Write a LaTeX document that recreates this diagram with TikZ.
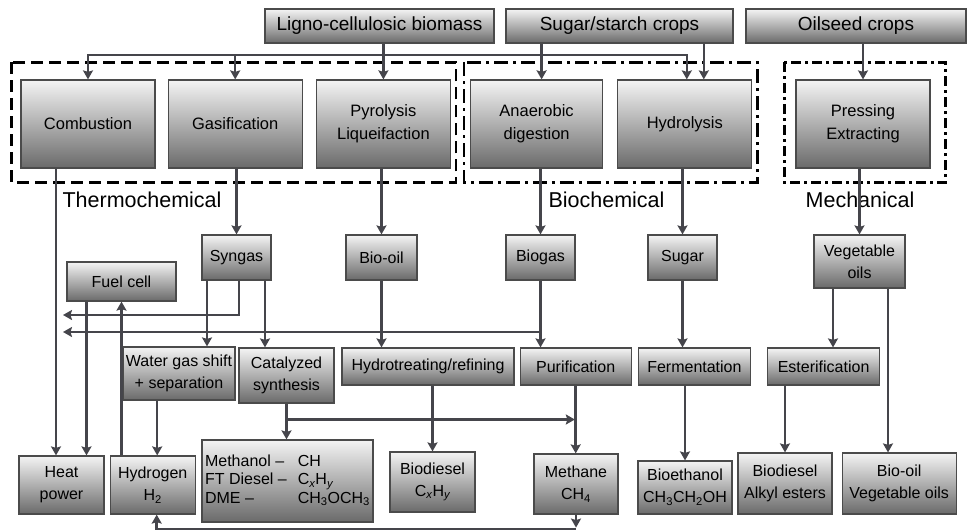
\documentclass[tikz,border=0pt]{standalone}
\usepackage{fontspec}
\setmainfont{Liberation Sans}
\usepackage{tikz}
\usetikzlibrary{shapes,arrows,arrows.meta,positioning,calc}
\usepackage{xcolor}
\definecolor{wire}{HTML}{45454B}
\definecolor{boxedge}{HTML}{4B4B4B}
\definecolor{boxtop}{HTML}{F4F4F4}
\definecolor{boxbottom}{HTML}{6A6A6A}
\tikzstyle{boxbase} = [rectangle, draw=boxedge, line width=1.2pt, top color=boxtop, bottom color=boxbottom, text centered, align=center, inner sep=0pt, font=\fontsize{16}{22}\selectfont]
\tikzstyle{source} = [boxbase, minimum height=34pt, font=\fontsize{19}{22}\selectfont]
\tikzstyle{process} = [boxbase, minimum width=134pt, minimum height=88pt, font=\fontsize{16.5}{23}\selectfont]
\tikzstyle{carrier} = [boxbase, minimum width=69pt, minimum height=45pt]
\tikzstyle{refine} = [boxbase, minimum width=112pt, minimum height=37pt]
\tikzstyle{product} = [boxbase, minimum width=85pt, minimum height=58pt]
\tikzstyle{wireline} = [draw=wire, line width=2.5pt]
\tikzstyle{arrow} = [wireline, ->, >={Stealth[length=9pt,width=10pt,inset=1.5pt]}]
\tikzstyle{frame} = [draw=black, line width=2.6pt]
\tikzstyle{grouplabel} = [font=\fontsize{21.5}{24}\selectfont]

\begin{document}
\begin{tikzpicture}[x=1pt, y=1pt]
    \useasboundingbox (0,0) rectangle (968,-532);
    % Feedstocks
    \node (ligno) [source, minimum width=229pt] at (379.5,-26) {Ligno-cellulosic biomass};
    \node (starch) [source, minimum width=227pt] at (619.5,-26) {Sugar/starch crops};
    \node (oilseed) [source, minimum width=220pt] at (856,-26) {Oilseed crops};

    % Conversion processes
    \node (comb) [process] at (88,-124) {Combustion};
    \node (gasif) [process, right=12pt of comb] {Gasification};
    \node (pyro) [process, right=13pt of gasif] {Pyrolysis\\Liqueifaction};
    \node (anaer) [process, minimum width=132pt, right=19pt of pyro] {Anaerobic\\digestion};
    \node (hydro) [process, right=14pt of anaer] {Hydrolysis};
    \node (press) [process, right=43pt of hydro] {Pressing\\Extracting};

    % Intermediates
    \node (fuel) [boxbase, minimum width=109pt, minimum height=39pt] at (121.5,-281.5) {Fuel cell};
    \node (syngas) [carrier] at (236.5,-257.5) {Syngas};
    \node (biooil) [carrier, minimum width=71pt] at (381.5,-257.5) {Bio-oil};
    \node (biogas) [carrier] at (540.5,-257.5) {Biogas};
    \node (sugar) [carrier] at (682.5,-257.5) {Sugar};
    \node (vegoil) [carrier, minimum width=91pt, minimum height=53pt] at (859.5,-261.5) {Vegetable\\oils};

    % Upgrading
    \node (watergas) [refine, minimum height=53pt] at (179,-373.5) {Water gas shift\\+ separation};
    \node (catal) [refine, minimum width=95pt, minimum height=55pt] at (286.5,-375.5) {Catalyzed\\synthesis};
    \node (hydrot) [refine, minimum width=172pt] at (428,-366.5) {Hydrotreating/refining};
    \node (purif) [refine, minimum width=111pt, right=5pt of hydrot] {Purification};
    \node (ferment) [refine, right=6pt of purif] {Fermentation};
    \node (ester) [refine, right=16pt of ferment] {Esterification};

    % End products
    \node (heat) [product] at (61.5,-485) {Heat\\power};
    \node (hydrogen) [product, right=5pt of heat] {Hydrogen\\H\textsubscript{2}};
    \node (products) [boxbase, minimum width=171pt, minimum height=82pt] at (287.5,-481) {\fontsize{16}{18.5}\selectfont\begin{tabular}{@{}l@{\hspace{11pt}}l@{}}Methanol -- & CH\\FT Diesel -- & C\textsubscript{\itshape x}H\textsubscript{\itshape y}\\DME -- & CH\textsubscript{3}OCH\textsubscript{3}\end{tabular}};
    \node (biodiesel) [product, minimum height=60pt] at (432.5,-482) {Biodiesel\\C\textsubscript{\itshape x}H\textsubscript{\itshape y}};
    \node (methane) [product, minimum width=84pt, minimum height=60pt] at (576,-484) {Methane\\CH\textsubscript{4}};
    \node (bioeth) [product, minimum width=94pt, minimum height=53pt] at (685,-487.5) {Bioethanol\\CH\textsubscript{3}CH\textsubscript{2}OH};
    \node (biodalk) [product, minimum width=94pt, minimum height=61pt] at (785,-483.5) {Biodiesel\\Alkyl esters};
    \node (biooilveg) [product, minimum width=114pt, minimum height=61pt, right=9pt of biodalk] {Bio-oil\\Vegetable oils};

    % Groups
    \draw [frame, dash pattern=on 12pt off 6pt] ($(comb.north west)+(-9,17)$) rectangle ($(pyro.south east)+(5,-14)$);
    \draw [frame, dash pattern=on 14pt off 5pt on 3pt off 5pt] ($(anaer.north west)+(-6,17)$) rectangle ($(hydro.south east)+(5,-14)$);
    \draw [frame, dash pattern=on 10pt off 4pt on 3pt off 4pt] ($(press.north west)+(-11,17)$) rectangle ($(press.south east)+(15,-14)$);
    \node (thermolabel) [grouplabel] at (142,-200) {Thermochemical};
    \node (biolabel) [grouplabel] at (606.5,-200) {Biochemical};
    \node (mechlabel) [grouplabel] at (860,-200) {Mechanical};

    % Arrows from feedstocks
    \coordinate (bus) at (0,-55);
    \draw [wireline] (ligno.south -| pyro) -- (pyro |- bus);
    \draw [arrow] (pyro |- bus) -| (comb.north);
    \draw [arrow] (pyro |- bus) -| ([xshift=2pt]hydro.north);
    \draw [arrow] (gasif |- bus) -- (gasif.north);
    \draw [arrow] (pyro |- bus) -- (pyro.north);
    \draw [arrow] ([xshift=5pt]anaer.north |- starch.south) -- ([xshift=5pt]anaer.north);
    \draw [arrow] ([xshift=19pt]hydro.north |- starch.south) -- ([xshift=19pt]hydro.north);
    \draw [arrow] (oilseed.south -| press) -- (press.north);

    % Arrows to intermediates
    \draw [arrow] ([xshift=-5.5pt]heat.north |- comb.south) -- ([xshift=-5.5pt]heat.north);
    \draw [arrow] (gasif.south -| syngas) -- (syngas.north);
    \draw [arrow] (pyro.south -| biooil) -- (biooil.north);
    \draw [arrow] (anaer.south -| biogas) -- (biogas.north);
    \draw [arrow] (hydro.south -| sugar) -- (sugar.north);
    \draw [arrow] (press.south -| vegoil) -- (vegoil.north);

    % Fuel cell loop
    \draw [arrow] ([xshift=25pt]heat.north |- fuel.south) -- ([xshift=25pt]heat.north);
    \draw [arrow] (hydrogen.north -| fuel) -- (fuel.south);

    % Gas back to heat and power
    \coordinate (gasout) at (63,-315);
    \coordinate (gasout2) at (63,-332);
    \draw [arrow] ([xshift=-29.5pt]syngas.south) -- ([xshift=-29.5pt]syngas.south |- watergas.north);
    \draw [arrow] ([xshift=2.5pt]syngas.south) |- (gasout);
    \draw [arrow] ([xshift=28.5pt]syngas.south) -- ([xshift=28.5pt]syngas.south |- catal.north);
    \draw [arrow] (biooil.south) -- (biooil.south |- hydrot.north);
    \draw [arrow] (biogas.south) -- (biogas.south |- purif.north);
    \draw [arrow] (biogas |- gasout2) -- (gasout2);
    \draw [arrow] (sugar.south) -- (sugar.south |- ferment.north);
    \draw [arrow] ([xshift=-26.5pt]vegoil.south) -- ([xshift=-26.5pt]vegoil.south |- ester.north);
    \draw [arrow] ([xshift=28.5pt]vegoil.south) -- ([xshift=28.5pt]vegoil.south |- biooilveg.north);

    % Arrows to end products
    \coordinate (mix) at ($(purif.south)!0.5!(methane.north)$);
    \draw [arrow] ([xshift=4.5pt]hydrogen.north |- watergas.south) -- ([xshift=4.5pt]hydrogen.north);
    \draw [arrow] (catal.south) -- (catal.south |- products.north);
    \draw [arrow] (catal.south |- mix) -- ([xshift=-1pt]mix);
    \draw [arrow] (biodiesel |- hydrot.south) -- (biodiesel.north);
    \draw [arrow] (purif.south) -- (purif.south |- methane.north);
    \draw [arrow] (bioeth |- ferment.south) -- (bioeth.north);
    \draw [arrow] (biodalk |- ester.south) -- (biodalk.north);

    % Methane back to hydrogen
    \coordinate (back) at (0,-529);
    \draw [arrow] (methane.south) -- ++(0,-13);
    \draw [arrow] (methane.south |- back) -| ([xshift=4pt]hydrogen.south);
\end{tikzpicture}
\end{document}
